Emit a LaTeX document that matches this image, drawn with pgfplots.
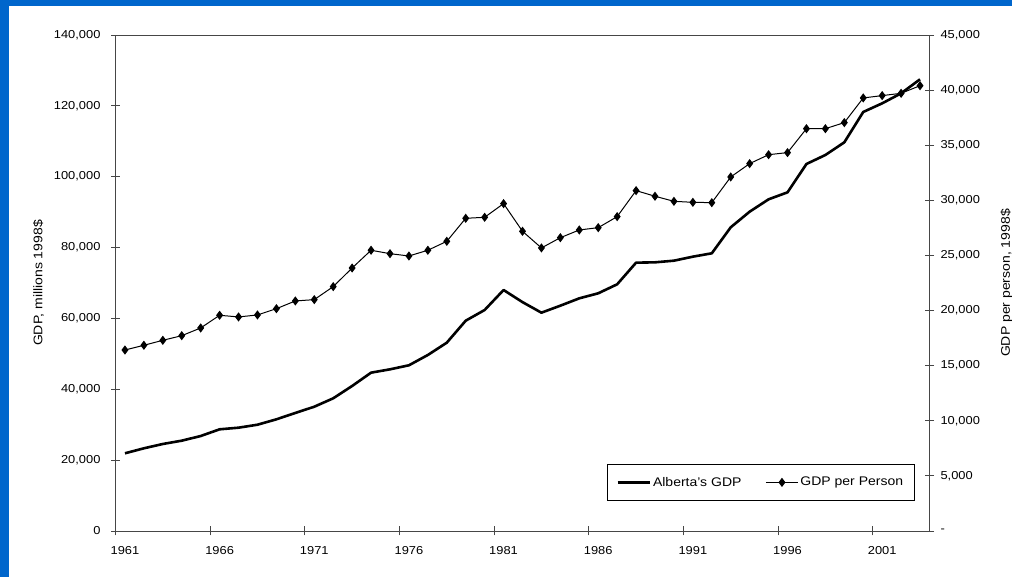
\documentclass[border=0pt]{standalone}
\usepackage{fontspec}
\setmainfont{Liberation Sans}[FakeStretch=1.12]
\usepackage{pgfplots}
\pgfplotsset{compat=1.18}
\usepackage{pgfplotstable}

\definecolor{frameblue}{RGB}{0,102,204}
\definecolor{axisgray}{RGB}{70,70,70}

% Alberta's GDP (millions of 1998 dollars) and GDP per person (1998 dollars)
\pgfplotstableread{
year gdp    perperson
1961 21930  16420
1962 23340  16850
1963 24560  17300
1964 25490  17720
1965 26810  18420
1966 28700  19570
1967 29160  19420
1968 30000  19600
1969 31520  20170
1970 33310  20870
1971 35080  20990
1972 37450  22170
1973 40930  23860
1974 44690  25470
1975 45630  25160
1976 46770  24950
1977 49680  25470
1978 53150  26280
1979 59360  28370
1980 62380  28460
1981 68020  29700
1982 64600  27190
1983 61620  25680
1984 63600  26610
1985 65670  27310
1986 67090  27520
1987 69630  28520
1988 75740  30880
1989 75830  30370
1990 76300  29910
1991 77430  29820
1992 78380  29790
1993 85720  32120
1994 90130  33330
1995 93620  34140
1996 95590  34330
1997 103590 36500
1998 106130 36500
1999 109700 37050
2000 118270 39290
2001 120710 39500
2002 123540 39710
2003 127490 40400
}\gdptable

\pgfplotsset{
  common/.style={
    scale only axis,
    width=814pt, height=496pt,
    at={(115.5pt,46pt)}, anchor=south west,
    xmin=1960.5, xmax=2003.5,
    scaled ticks=false,
    tick align=center,
    major tick length=9pt,
    minor tick length=9pt,
    tick style={axisgray, line width=0.9pt},
    axis line style={axisgray, line width=0.9pt},
    ticklabel style={font=\fontsize{11.5}{13}\selectfont},
  },
}

\begin{document}
\begin{tikzpicture}
\useasboundingbox (0,0) rectangle (1012pt,577pt);
\fill[white] (0,0) rectangle (1012pt,577pt);
\fill[frameblue] (0,0) rectangle (9pt,577pt);
\fill[frameblue] (0,571pt) rectangle (1012pt,577pt);

% left axis: total GDP
\begin{axis}[
  common,
  axis lines=box,
  ymin=0, ymax=140000,
  ytick={0,20000,...,140000},
  yticklabels={{0},{20,000},{40,000},{60,000},{80,000},{100,000},{120,000},{140,000}},
  ytick pos=left,
  xtick pos=left,
  xtick={1961,1966,...,2001},
  xticklabels={1961,1966,1971,1976,1981,1986,1991,1996,2001},
  major x tick style={draw=none},
  minor xtick={1960.5,1965.5,...,2000.5},
  yticklabel style={xshift=-7pt},
  xticklabel style={yshift=-7pt},
  ylabel={GDP, millions 1998\$},
  ylabel style={at={(axis description cs:-0.0946,0.5)}, anchor=center, rotate=0,
    font=\fontsize{12.5}{14}\selectfont},
]
\addplot[black, line width=2.6pt, line join=round] table[x=year, y=gdp] {\gdptable};
\end{axis}

% right axis: GDP per person
\begin{axis}[
  common,
  axis y line*=right,
  axis x line=none,
  ymin=0, ymax=45000,
  ytick={0,5000,...,45000},
  yticklabels={{-},{5,000},{10,000},{15,000},{20,000},{25,000},{30,000},{35,000},{40,000},{45,000}},
  yticklabel style={xshift=3pt},
  ylabel={GDP per person, 1998\$},
  ylabel style={at={(axis description cs:1.0946,0.5)}, anchor=center, rotate=0,
    font=\fontsize{12.5}{14}\selectfont},
  legend columns=2,
  legend style={
    at={(0.9816,0.0605)}, anchor=south east,
    draw=black, line width=0.7pt,
    font=\fontsize{12.5}{14}\selectfont,
    inner xsep=9pt, inner ysep=11pt,
    /tikz/every even column/.append style={column sep=22pt},
  },
  legend image code/.code={%
    \draw[mark repeat=2, mark phase=2, #1]
      plot coordinates {(0pt,0pt) (16pt,0pt) (32pt,0pt)};},
]
\addlegendimage{black, line width=2.6pt}
\addlegendentry{Alberta's GDP}
\addplot[black, line width=1pt, mark=diamond*, mark size=3.8pt,
  mark options={solid, fill=black}] table[x=year, y=perperson] {\gdptable};
\addlegendentry{GDP per Person\hspace{18pt}}
\end{axis}
\end{tikzpicture}
\end{document}
